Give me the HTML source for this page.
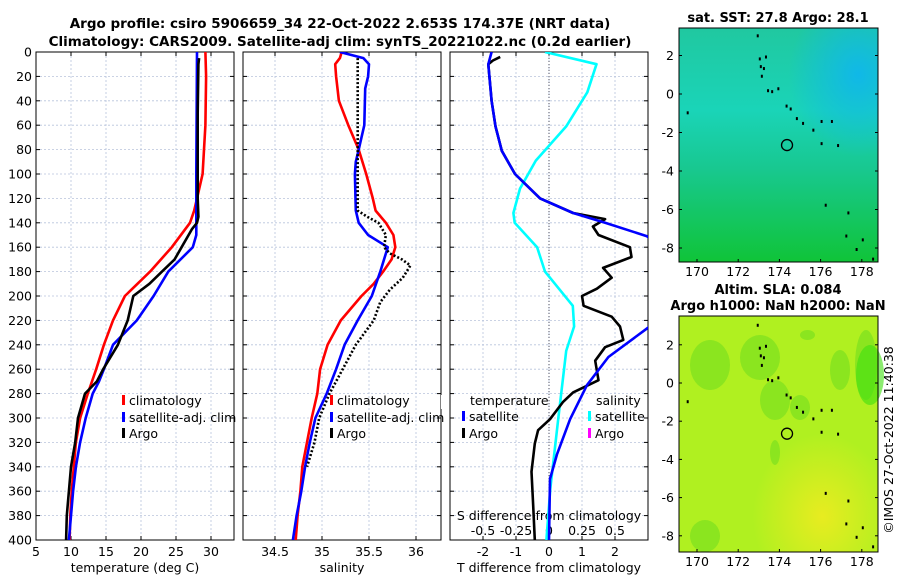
<!DOCTYPE html>
<html><head><meta charset="utf-8"><style>
html,body{margin:0;padding:0;background:#fff;}
svg{display:block;font-family:"DejaVu Sans","Liberation Sans",sans-serif;}
</style></head><body>
<svg id="fig" width="900" height="580" viewBox="0 0 900 580">
<defs>
<clipPath id="c1"><rect x="36" y="52" width="198" height="488"/></clipPath>
<clipPath id="c2"><rect x="243" y="52" width="198" height="488"/></clipPath>
<clipPath id="c3"><rect x="450" y="52" width="198" height="488"/></clipPath>
<linearGradient id="sstg" x1="0" y1="0" x2="0" y2="1">
<stop offset="0" stop-color="#20c8a0"/><stop offset="0.35" stop-color="#1ad4b8"/><stop offset="0.6" stop-color="#18c890"/><stop offset="1" stop-color="#10c438"/></linearGradient>
<radialGradient id="sstb" cx="0.9" cy="0.2" r="0.35"><stop offset="0" stop-color="#10b8e8"/><stop offset="1" stop-color="#10b8e8" stop-opacity="0"/></radialGradient>
<radialGradient id="slay" cx="0.72" cy="0.85" r="0.35"><stop offset="0" stop-color="#e8ec20"/><stop offset="1" stop-color="#e8ec20" stop-opacity="0"/></radialGradient>
</defs>
<text x="340" y="28" text-anchor="middle" font-size="13.5" font-weight="bold">Argo profile: csiro 5906659_34 22-Oct-2022 2.653S 174.37E (NRT data)</text>
<text x="340" y="46" text-anchor="middle" font-size="13.5" font-weight="bold">Climatology: CARS2009. Satellite-adj clim: synTS_20221022.nc (0.2d earlier)</text>
<g id="plots"></g>
<g id="maps"></g>
<text transform="translate(893,440) rotate(-90)" text-anchor="middle" font-size="12.5">©IMOS 27-Oct-2022 11:40:38</text>
</svg>
<script>
// ---- data ----
const depthClimT=[0,20,60,100,120,130,140,160,180,200,220,240,260,280,300,320,340,360,380,400];
const climT=[29.2,29.3,29.2,28.8,28.0,27.6,27.0,24.4,21.3,17.7,16.0,14.7,13.6,12.4,11.3,10.7,10.4,10.1,9.9,9.8];
const depthSatT=[0,100,150,160,180,200,220,240,260,270,280,300,320,340,360,380,400];
const satT=[28.0,27.9,27.9,27.4,23.9,21.8,19.4,16.0,14.7,14.0,13.1,12.1,11.3,10.7,10.3,10.0,9.7];
const depthArgoT=[5,10,50,120,135,140,145,150,160,170,180,190,200,220,240,260,270,280,300,320,340,360,380,400];
const argoT=[28.3,28.2,28.1,28.1,28.2,28.0,27.3,26.8,25.8,24.8,23.0,21.2,18.9,18.1,16.7,14.6,13.7,12.0,11.0,10.6,10.0,9.7,9.4,9.3];
const depthClimS=[0,5,10,20,40,60,80,100,120,130,140,150,160,170,180,190,200,220,240,260,280,300,320,340,360,380,400];
const climS=[35.21,35.19,35.14,35.15,35.18,35.28,35.39,35.47,35.54,35.57,35.68,35.76,35.78,35.74,35.65,35.55,35.42,35.2,35.06,34.98,34.95,34.89,34.84,34.79,34.77,34.74,34.72];
const depthSatS=[0,5,10,20,30,60,80,90,100,130,140,150,160,180,200,220,240,260,280,300,320,340,360,380,400];
const satS=[35.19,35.44,35.5,35.49,35.46,35.45,35.39,35.36,35.35,35.36,35.39,35.49,35.7,35.62,35.53,35.38,35.24,35.15,35.05,34.93,34.87,34.82,34.78,34.73,34.69];
const depthArgoS=[5,130,135,140,150,160,165,170,175,185,195,205,220,240,260,280,300,320,340];
const argoS=[35.38,35.38,35.48,35.6,35.68,35.66,35.72,35.85,35.94,35.86,35.72,35.62,35.55,35.36,35.22,35.08,34.97,34.92,34.84];
const depthDiffT=[0,10,40,61,81,100,120,132,140,151,170,200,226,250,273,301,330,350,400];
const satDiffT=[-1.74,-1.84,-1.74,-1.62,-1.43,-1.03,-0.27,0.73,1.7,2.97,3.8,4.0,3.0,1.8,1.15,0.64,0.24,0.03,0.0];
const depthArgoDiffT=[4,7,10,40,61,81,100,120,132,137,143,150,160,168,177,185,194,200,208,217,225,236,242,253,269,279,287,301,310,321,344,372,400];
const argoDiffT=[-1.48,-1.7,-1.84,-1.74,-1.62,-1.43,-1.03,-0.27,0.73,1.7,1.33,1.5,2.45,2.5,1.64,1.9,1.45,1.0,1.05,1.9,2.15,2.25,1.7,1.4,1.5,0.73,0.42,0.03,-0.33,-0.43,-0.53,-0.48,-0.43];
const depthDiffS=[0,10,33,61,89,112,132,140,160,180,208,225,245,301,358,400];
const satDiffS=[-0.03,0.36,0.29,0.13,-0.1,-0.22,-0.27,-0.26,-0.09,-0.03,0.18,0.19,0.13,0.07,0.01,-0.02];
const depthTicks=[0,20,40,60,80,100,120,140,160,180,200,220,240,260,280,300,320,340,360,380,400];
const tempTicks=[5,10,15,20,25,30];
const salTicks=[34.5,35,35.5,36];
const tdTicks=[-2,-1,0,1,2];
const sdTicks=[-0.5,-0.25,0,0.25,0.5];
const sdTickLabels=["-0.5","-0.25","0","0.25","0.5"];
const lonTicks=[170,172,174,176,178];
const latTicks=[2,0,-2,-4,-6,-8];
const profileLon=174.37, profileLat=-2.653;
// ---- axes ----
const NS="http://www.w3.org/2000/svg";
const Y=d=>52+d*1.22;
const XT=t=>36+(t-5)*7;
const XS=s=>275+(s-34.5)*94;
const XD=v=>549+v*33;
const XSD=v=>549+v*132;
const plots=document.getElementById('plots');
function mk(tag,attrs,parent){const e=document.createElementNS(NS,tag);for(const k in attrs)e.setAttribute(k,attrs[k]);(parent||plots).appendChild(e);return e;}
function txt(x,y,s,size,anchor,parent){const t=mk('text',{x:x,y:y,'font-size':size,'text-anchor':anchor||'middle'},parent);t.textContent=s;return t;}
function line(xs,ds,fx,color,w,clip,name,dash){
  const p=xs.map((v,i)=>fx(v).toFixed(1)+','+Y(ds[i]).toFixed(1)).join(' ');
  const e=mk('polyline',{points:p,fill:'none',stroke:color,'stroke-width':w,'clip-path':'url(#'+clip+')','stroke-linejoin':'round'});
  if(dash)e.setAttribute('stroke-dasharray',dash);
  
  
}
function panel(x0,clip,name,vticks,fx,labels,showDepth){
  const g=mk('g',{});
  
  
  depthTicks.forEach(d=>{mk('line',{x1:x0,x2:x0+198,y1:Y(d),y2:Y(d),stroke:'#b8c4dc','stroke-width':0.8,'stroke-dasharray':'2,2'},g);
    mk('line',{x1:x0,x2:x0+4,y1:Y(d),y2:Y(d),stroke:'#000'},g);mk('line',{x1:x0+194,x2:x0+198,y1:Y(d),y2:Y(d),stroke:'#000'},g);
    if(showDepth){const t=txt(x0-4,Y(d)+4.5,String(d),12.5,'end',g);}});
  vticks.forEach((v,i)=>{const x=fx(v);mk('line',{x1:x,x2:x,y1:52,y2:540,stroke:'#b8c4dc','stroke-width':0.8,'stroke-dasharray':'2,2'},g);
    mk('line',{x1:x,x2:x,y1:536,y2:540,stroke:'#000'},g);mk('line',{x1:x,x2:x,y1:52,y2:56,stroke:'#000'},g);
    if(labels){const t=txt(x,556,labels[i],12.5,'middle',g);}});
  mk('rect',{x:x0,y:52,width:198,height:488,fill:'none',stroke:'#000','stroke-width':1},g);
}
panel(36,'c1','temperature-panel',tempTicks,XT,tempTicks.map(String),true);
panel(243,'c2','salinity-panel',salTicks,XS,salTicks.map(String),false);
panel(450,'c3','difference-panel',tdTicks,XD,tdTicks.map(String),false);
let t;
t=txt(135,572,'temperature (deg C)',12.5);
t=txt(342,572,'salinity',12.5);
t=txt(549,572,'T difference from climatology',12.5);
t=txt(549,520,'S difference from climatology',12.5);
sdTicks.forEach((v,i)=>{const s=txt(XSD(v),535,sdTickLabels[i],12.5);});
mk('line',{x1:549,x2:549,y1:52,y2:540,stroke:'#556','stroke-width':1,'stroke-dasharray':'1,2'});
// series
line(climT,depthClimT,XT,'#f00',2.6,'c1','temp-climatology-line');
line(satT,depthSatT,XT,'#00f',2.6,'c1','temp-satellite-line');
line(argoT,depthArgoT,XT,'#000',2.6,'c1','temp-argo-line');
line(climS,depthClimS,XS,'#f00',2.6,'c2','sal-climatology-line');
line(satS,depthSatS,XS,'#00f',2.6,'c2','sal-satellite-line');
line(argoS,depthArgoS,XS,'#000',2.6,'c2','sal-argo-line','2,2');
line(satDiffS,depthDiffS,XSD,'#0ff',2.6,'c3','sdiff-satellite-line');
line(argoDiffT,depthArgoDiffT,XD,'#000',2.6,'c3','tdiff-argo-line');
line(satDiffT,depthDiffT,XD,'#00f',2.6,'c3','tdiff-satellite-line');
// legends
function leg(x,y,color,label,name){mk('rect',{x:x,y:y-10,width:3,height:10,fill:color});const s=txt(x+7,y,label,12.5,'start');}
leg(122,405,'#f00','climatology','legend-climatology');
leg(122,422,'#00f','satellite-adj. clim','legend-satellite-adj');
leg(122,438,'#000','Argo','legend-argo');
leg(330,405,'#f00','climatology','legend-sal-climatology');
leg(330,422,'#00f','satellite-adj. clim','legend-sal-satellite-adj');
leg(330,438,'#000','Argo','legend-sal-argo');
mk('rect',{x:441,y:395,width:8,height:14,fill:'#fff'});
t=txt(470,405,'temperature',12.5,'start');
t=txt(596,405,'salinity',12.5,'start');
leg(462,421,'#00f','satellite','legend-tdiff-satellite');
leg(462,438,'#000','Argo','legend-tdiff-argo');
leg(588,421,'#0ff','satellite','legend-sdiff-satellite');
leg(588,438,'#f0f','Argo','legend-sdiff-argo');
// ---- maps ----
const maps=document.getElementById('maps');
function mapPanel(y0,h,lat0y,pxLat,fill,title1,title2,name,blobs){
  const g=mk('g',{},maps);
  
  
  const LX=l=>697+(l-170)*20.6, LY=l=>lat0y-l*pxLat;
  mk('rect',{x:679,y:y0,width:199,height:h,fill:fill},g);
  blobs(g);
  [[172.9,3.1],[173.0,1.9],[173.05,1.5],[173.2,1.4],[173.1,1.0],[173.3,2.0],[173.4,0.25],[173.6,0.2],[173.9,0.35],[174.3,-0.55],[174.5,-0.7],[174.8,-1.2],[175.1,-1.45],[175.6,-1.8],[176.0,-1.35],[176.5,-1.35],[176.0,-2.5],[176.8,-2.6],[169.5,-0.9],[176.2,-5.7],[177.3,-6.1],[177.2,-7.3],[177.7,-8.0],[178.0,-7.5],[178.5,-8.5]].forEach(p=>{
    const d=mk('rect',{x:LX(p[0]),y:LY(p[1]),width:2,height:3,fill:'#000'},g);});
  const c=mk('circle',{cx:LX(profileLon),cy:LY(profileLat),r:5.5,fill:'none',stroke:'#000','stroke-width':1.3},g);
  
  mk('rect',{x:679,y:y0,width:199,height:h,fill:'none',stroke:'#000'},g);
  lonTicks.forEach(l=>{mk('line',{x1:LX(l),x2:LX(l),y1:y0+h,y2:y0+h-3,stroke:'#000'},g);
    const s=txt(LX(l),y0+h+14,String(l),12.5,'middle',g);});
  latTicks.forEach(l=>{mk('line',{x1:679,x2:682,y1:LY(l),y2:LY(l),stroke:'#000'},g);mk('line',{x1:875,x2:878,y1:LY(l),y2:LY(l),stroke:'#000'},g);
    const s=txt(674,LY(l)+4.5,String(l),12.5,'end',g);});
  let s=txt(778,y0-(title2?22:6),title1,13,'middle',g);s.setAttribute('font-weight','bold');
  if(title2){s=txt(778,y0-6,title2,13,'middle',g);s.setAttribute('font-weight','bold');}
}
mapPanel(28,234,94,19.25,'url(#sstg)','sat. SST: 27.8 Argo: 28.1',null,'sst-map',g=>{
  mk('rect',{x:679,y:28,width:199,height:234,fill:'url(#sstb)'},g);
});
mapPanel(316,236,383,19.1,'#b0f020','Altim. SLA: 0.084','Argo h1000: NaN h2000: NaN','sla-map',g=>{
  mk('rect',{x:679,y:316,width:199,height:236,fill:'url(#slay)'},g);
  [[690,340,40,50],[740,335,40,45],[760,380,30,40],[790,395,20,25],[855,330,22,70],[830,350,20,40],[800,330,15,10],[770,440,10,25],[690,520,30,32]].forEach(b=>mk('ellipse',{cx:b[0]+b[2]/2,cy:b[1]+b[3]/2,rx:b[2]/2,ry:b[3]/2,fill:'#7ce020','fill-opacity':0.7},g));
  [[870,360,14,30]].forEach(b=>mk('ellipse',{cx:b[0],cy:b[1]+b[3]/2,rx:b[2],ry:b[3],fill:'#40e010','fill-opacity':0.6},g));
});
</script>
</body></html>
